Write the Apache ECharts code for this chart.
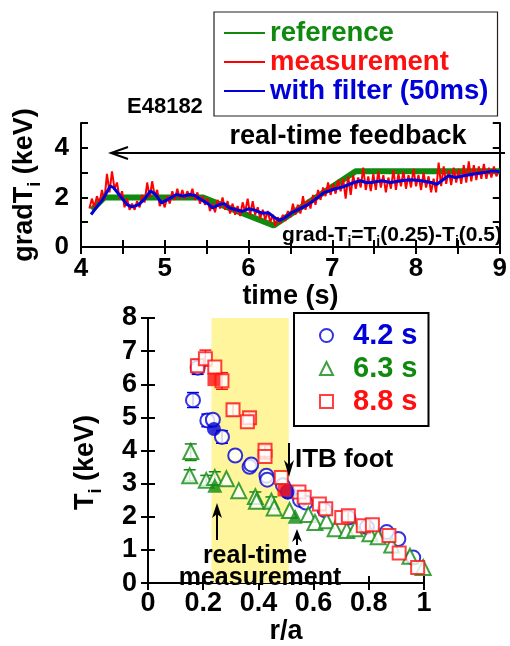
<!DOCTYPE html>
<html><head><meta charset="utf-8">
<script src="https://cdn.jsdelivr.net/npm/echarts@6/dist/echarts.min.js"></script>
<style>html,body{margin:0;padding:0;background:#fff}#c{width:510px;height:646px}</style>
</head><body><div id="c"></div>
<script>
const FONT = '"Liberation Sans", Arial, Helvetica, sans-serif';

// ---------- top panel: gradTi vs time ----------
const refTime = [4.13, 4.28, 5.45, 6.30, 7.28, 9.00];
const refGrad = [1.50, 2.00, 2.00, 0.87, 3.05, 3.05];

const measTime = [4.10,4.13,4.16,4.19,4.22,4.25,4.28,4.31,4.34,4.37,4.40,4.43,4.46,4.49,4.52,4.55,4.58,4.61,4.64,4.67,4.70,4.73,4.76,4.79,4.82,4.85,4.88,4.91,4.94,4.97,5.00,5.03,5.06,5.09,5.12,5.15,5.18,5.21,5.24,5.27,5.30,5.33,5.36,5.39,5.42,5.45,5.48,5.51,5.54,5.57,5.60,5.63,5.66,5.69,5.72,5.75,5.78,5.81,5.84,5.87,5.90,5.93,5.96,5.99,6.02,6.05,6.08,6.11,6.14,6.17,6.20,6.23,6.26,6.29,6.32,6.35,6.38,6.41,6.44,6.47,6.50,6.53,6.56,6.59,6.62,6.65,6.68,6.71,6.74,6.77,6.80,6.83,6.86,6.89,6.92,6.95,6.98,7.01,7.04,7.07,7.10,7.13,7.16,7.19,7.22,7.25,7.28,7.31,7.34,7.37,7.40,7.43,7.46,7.49,7.52,7.55,7.58,7.61,7.64,7.67,7.70,7.73,7.76,7.79,7.82,7.85,7.88,7.91,7.94,7.97,8.00,8.03,8.06,8.09,8.12,8.15,8.18,8.21,8.24,8.27,8.30,8.33,8.36,8.39,8.42,8.45,8.48,8.51,8.54,8.57,8.60,8.63,8.66,8.69,8.72,8.75,8.78,8.81,8.84,8.87,8.90,8.93,8.96,8.99];
const measGrad = [1.55,1.95,1.60,2.05,1.75,2.30,1.90,2.95,2.20,3.05,2.35,2.60,1.95,2.25,1.60,1.95,1.50,1.75,1.50,1.85,1.60,2.10,1.80,2.60,2.00,2.65,2.05,2.30,1.65,1.90,1.60,2.05,1.75,2.25,1.90,2.35,1.95,2.30,1.95,2.25,2.00,2.35,1.90,2.20,1.75,2.05,1.70,1.95,1.45,1.75,1.40,1.90,1.55,2.00,1.50,1.85,1.35,1.75,1.30,1.65,1.25,1.80,1.40,1.95,1.30,1.85,1.30,1.60,1.15,1.50,1.10,1.45,1.00,1.30,0.85,1.20,0.95,1.30,1.05,1.45,1.20,1.75,1.30,1.70,1.35,2.05,1.50,1.90,1.55,2.10,1.70,2.30,1.90,2.40,2.05,2.60,2.10,2.55,2.15,2.70,2.25,2.75,1.95,2.85,2.10,2.90,2.35,2.80,2.40,3.20,2.30,2.85,2.25,2.95,2.30,3.05,2.40,2.90,2.20,2.80,2.35,3.10,2.30,2.95,2.45,3.05,2.35,2.90,2.40,3.15,2.45,2.90,2.30,3.00,2.40,2.85,2.20,2.75,2.20,3.40,2.45,3.25,2.55,3.10,2.50,3.20,2.60,3.15,2.55,3.30,2.60,3.45,2.65,3.30,2.70,3.25,2.75,3.35,2.75,3.20,2.80,3.25,2.85,3.10];

const filtTime = [4.12,4.18,4.26,4.35,4.39,4.47,4.55,4.61,4.69,4.77,4.83,4.89,4.96,5.04,5.14,5.22,5.30,5.36,5.43,5.53,5.57,5.65,5.71,5.77,5.84,5.92,6.00,6.08,6.16,6.24,6.32,6.37,6.43,6.51,6.59,6.71,6.82,6.90,7.02,7.14,7.26,7.34,7.40,7.47,7.59,7.70,7.82,7.94,8.06,8.18,8.25,8.33,8.39,8.47,8.57,8.69,8.81,8.92,9.00];
const filtGrad = [1.31,1.58,1.92,2.46,2.39,2.05,1.71,1.62,1.71,1.98,2.26,2.12,1.78,1.92,2.12,2.05,2.12,2.08,1.92,1.71,1.58,1.71,1.75,1.58,1.51,1.44,1.54,1.48,1.37,1.37,1.17,1.07,1.17,1.37,1.51,1.71,1.98,2.19,2.33,2.44,2.60,2.67,2.60,2.60,2.67,2.60,2.67,2.71,2.67,2.60,2.53,2.73,2.87,2.80,2.87,2.94,3.00,3.07,3.03];

// ---------- bottom panel: Ti profiles ----------
const rA_42 = [0.180,0.163,0.215,0.235,0.268,0.316,0.368,0.374,0.429,0.432,0.489,0.507,0.551,0.571,0.640,0.726,0.793,0.865,0.907,0.961];
const Ti_42 = [6.50,5.52,4.91,4.93,4.41,3.85,3.51,3.58,3.24,3.12,2.95,2.76,2.51,2.43,2.20,1.98,1.69,1.54,1.33,0.77];
const rA_42rt = [0.239,0.505];
const Ti_42rt = [4.65,2.74];

const rA_63 = [0.155,0.151,0.211,0.242,0.284,0.329,0.389,0.393,0.447,0.457,0.513,0.581,0.605,0.647,0.678,0.720,0.750,0.804,0.834,0.883,0.949,0.997];
const Ti_63 = [3.97,3.24,3.10,3.19,3.15,2.79,2.61,2.47,2.47,2.27,2.19,2.07,1.83,1.88,1.64,1.59,1.64,1.49,1.40,1.15,0.81,0.47];
const rA_63rt = [0.242,0.533];
const Ti_63rt = [2.95,2.02];

const rA_88 = [0.179,0.208,0.242,0.268,0.308,0.368,0.360,0.424,0.424,0.483,0.547,0.566,0.621,0.644,0.702,0.726,0.780,0.813,0.873,0.910,0.977];
const Ti_88 = [6.56,6.77,6.52,6.11,5.23,4.99,4.87,4.01,3.82,3.19,2.75,2.59,2.39,2.24,1.98,2.03,1.73,1.76,1.44,0.91,0.47];
const rA_88rt = [0.239,0.493];
const Ti_88rt = [6.14,2.81];

// error bars: r/a, low, high
const errR_42 = [0.163,0.215,0.268,0.180];
const errLo_42 = [5.30,4.72,4.22,6.30];
const errHi_42 = [5.75,5.10,4.60,6.60];
const errR_63 = [0.155,0.151,0.211,0.242,0.389,0.447];
const errLo_63 = [3.70,3.08,2.95,3.03,2.45,2.30];
const errHi_63 = [4.20,3.42,3.25,3.36,2.75,2.60];
const errR_88 = [0.208,0.179,0.268,0.308,0.368,0.424];
const errLo_88 = [6.55,6.35,5.85,5.05,4.80,3.75];
const errHi_88 = [7.03,6.75,6.35,5.40,5.15,4.15];

const C_GREEN = '#0f8a0f', C_RED = '#ff1010', C_BLUE = '#0000d8';
const zip = (a, b) => a.map((v, i) => [v, b[i]]);
const zip3 = (a, b, c) => a.map((v, i) => [v, b[i], c[i]]);

function errItem(color) {
  return function (params, api) {
    const x = api.value(0), lo = api.value(1), hi = api.value(2);
    const p1 = api.coord([x, lo]), p2 = api.coord([x, hi]);
    const w = 6;
    const st = { stroke: color, lineWidth: 1.5 };
    return { type: 'group', children: [
      { type: 'line', shape: { x1: p1[0], y1: p1[1], x2: p2[0], y2: p2[1] }, style: st },
      { type: 'line', shape: { x1: p1[0] - w, y1: p1[1], x2: p1[0] + w, y2: p1[1] }, style: st },
      { type: 'line', shape: { x1: p2[0] - w, y1: p2[1], x2: p2[0] + w, y2: p2[1] }, style: st }
    ]};
  };
}

const txt = { fontFamily: FONT, fontWeight: 'bold', color: '#000' };
const axLine = { show: true, lineStyle: { color: '#000', width: 2 } };
const tick = { show: true, inside: true, length: 7, lineStyle: { color: '#000', width: 2 } };

const chart = echarts.init(document.getElementById('c'), null, { renderer: 'canvas' });
chart.setOption({
  animation: false,
  backgroundColor: '#fff',
  grid: [
    { left: 81, top: 123, width: 424, height: 124 },
    { left: 148, top: 318, width: 276, height: 275 }
  ],
  xAxis: [
    { gridIndex: 0, type: 'value', min: 4, max: 9, interval: 0.5, position: 'bottom',
      axisLine: axLine, axisTick: tick, splitLine: { show: false },
      axisLabel: { ...txt, fontSize: 26, margin: 9, formatter: v => Number.isInteger(v) ? String(v) : '' },
      name: 'time (s)', nameLocation: 'middle', nameGap: 29,
      nameTextStyle: { ...txt, fontSize: 27 } },
    { gridIndex: 0, type: 'value', min: 4, max: 9, interval: 0.5, position: 'top',
      axisLine: axLine, axisTick: tick, splitLine: { show: false }, axisLabel: { show: false } },
    { gridIndex: 1, type: 'value', min: 0, max: 1, interval: 0.2, position: 'bottom',
      axisLine: axLine, axisTick: tick, splitLine: { show: false },
      axisLabel: { ...txt, fontSize: 27, margin: 7, formatter: v => (v === 0 || v === 1) ? String(v) : v.toFixed(1) },
      name: 'r/a', nameLocation: 'middle', nameGap: 30,
      nameTextStyle: { ...txt, fontSize: 27 } },
    { gridIndex: 1, type: 'value', min: 0, max: 1, interval: 0.2, position: 'top',
      axisLine: axLine, axisTick: tick, splitLine: { show: false }, axisLabel: { show: false } }
  ],
  yAxis: [
    { gridIndex: 0, type: 'value', min: 0, max: 5, interval: 1, position: 'left',
      axisLine: axLine, axisTick: tick, splitLine: { show: false },
      axisLabel: { ...txt, fontSize: 26, margin: 12, formatter: v => v % 2 === 0 ? String(v) : '' },
      name: '{a|gradT}{s|i}{a| (keV)}', nameLocation: 'middle', nameGap: 36,
      nameTextStyle: { padding: [0, 0, 0, 0], rich: {
        a: { ...txt, fontSize: 27, lineHeight: 38 },
        s: { ...txt, fontSize: 18, lineHeight: 18, verticalAlign: 'bottom' } } } },
    { gridIndex: 0, type: 'value', min: 0, max: 5, interval: 1, position: 'right',
      axisLine: axLine, axisTick: tick, splitLine: { show: false }, axisLabel: { show: false } },
    { gridIndex: 1, type: 'value', min: 0, max: 8, interval: 1, position: 'left',
      axisLine: axLine, axisTick: tick, splitLine: { show: false },
      axisLabel: { ...txt, fontSize: 27, margin: 11 },
      name: '{a|T}{s|i}{a| (keV)}', nameLocation: 'middle', nameGap: 43,
      nameTextStyle: { padding: [0, 24, 0, 0], rich: {
        a: { ...txt, fontSize: 27, lineHeight: 38 },
        s: { ...txt, fontSize: 18, lineHeight: 18, verticalAlign: 'bottom' } } } },
    { gridIndex: 1, type: 'value', min: 0, max: 8, interval: 1, position: 'right',
      axisLine: axLine, axisTick: tick, splitLine: { show: false }, axisLabel: { show: false } }
  ],
  legend: [
    { orient: 'vertical', left: 214, top: 12, padding: [7, 9, 11, 9],
      itemWidth: 41, itemHeight: 14, itemGap: 1,
      itemStyle: { opacity: 0 },
      backgroundColor: '#fff', borderColor: '#222', borderWidth: 1.2,
      textStyle: { ...txt, fontSize: 27.5 },
      data: [
        { name: 'reference', textStyle: { color: C_GREEN } },
        { name: 'measurement', textStyle: { color: C_RED } },
        { name: 'with filter (50ms)', textStyle: { color: C_BLUE } }
      ] },
    { orient: 'vertical', left: 294, top: 313, padding: [8, 11, 10, 25],
      itemWidth: 13, itemHeight: 13, itemGap: 4,
      backgroundColor: '#fff', borderColor: '#000', borderWidth: 2,
      textStyle: { ...txt, fontSize: 29, padding: [0, 0, 0, 15] },
      data: [
        { name: '4.2 s', textStyle: { color: C_BLUE } },
        { name: '6.3 s', textStyle: { color: C_GREEN } },
        { name: '8.8 s', textStyle: { color: C_RED } }
      ] }
  ],
  series: [
    { name: 'reference', type: 'line', xAxisIndex: 0, yAxisIndex: 0, data: zip(refTime, refGrad),
      symbol: 'none', lineStyle: { color: C_GREEN, width: 6 }, itemStyle: { color: C_GREEN }, z: 2 },
    { name: 'measurement', type: 'line', xAxisIndex: 0, yAxisIndex: 0, data: zip(measTime, measGrad),
      symbol: 'none', lineStyle: { color: '#ff0000', width: 2 }, itemStyle: { color: '#ff0000' }, z: 3 },
    { name: 'with filter (50ms)', type: 'line', xAxisIndex: 0, yAxisIndex: 0, data: zip(filtTime, filtGrad),
      symbol: 'none', lineStyle: { color: C_BLUE, width: 3 }, itemStyle: { color: C_BLUE }, z: 4 },

    { name: 'band', type: 'custom', xAxisIndex: 2, yAxisIndex: 2, data: [], renderItem: () => null,
      z: 0, silent: true,
      markArea: { silent: true, itemStyle: { color: '#fff59c' },
        data: [[{ xAxis: 0.23 }, { xAxis: 0.51 }]] } },

    { name: 'err 6.3', type: 'custom', xAxisIndex: 2, yAxisIndex: 2, data: zip3(errR_63, errLo_63, errHi_63),
      renderItem: errItem(C_GREEN), encode: { x: 0, y: [1, 2] }, z: 1, silent: true },
    { name: 'err 4.2', type: 'custom', xAxisIndex: 2, yAxisIndex: 2, data: zip3(errR_42, errLo_42, errHi_42),
      renderItem: errItem(C_BLUE), encode: { x: 0, y: [1, 2] }, z: 1, silent: true },
    { name: 'err 8.8', type: 'custom', xAxisIndex: 2, yAxisIndex: 2, data: zip3(errR_88, errLo_88, errHi_88),
      renderItem: errItem(C_RED), encode: { x: 0, y: [1, 2] }, z: 1, silent: true },

    { name: '4.2 s', type: 'scatter', xAxisIndex: 2, yAxisIndex: 2, data: zip(rA_42, Ti_42), clip: false,
      symbol: 'emptyCircle', symbolSize: 14, itemStyle: { color: C_BLUE, borderWidth: 1.3 }, z: 3 },
    { name: '6.3 s', type: 'scatter', xAxisIndex: 2, yAxisIndex: 2, data: zip(rA_63, Ti_63), clip: false,
      symbol: 'emptyTriangle', symbolSize: 15, itemStyle: { color: C_GREEN, borderWidth: 1.3 }, z: 3 },
    { name: '8.8 s', type: 'scatter', xAxisIndex: 2, yAxisIndex: 2, data: zip(rA_88, Ti_88), clip: false,
      symbol: 'emptyRect', symbolSize: 13, itemStyle: { color: C_RED, borderWidth: 1.3 }, z: 3 },

    { name: 'rt 4.2', type: 'scatter', xAxisIndex: 2, yAxisIndex: 2, data: zip(rA_42rt, Ti_42rt),
      symbol: 'circle', symbolSize: 14, itemStyle: { color: C_BLUE }, z: 4 },
    { name: 'rt 6.3', type: 'scatter', xAxisIndex: 2, yAxisIndex: 2, data: zip(rA_63rt, Ti_63rt),
      symbol: 'triangle', symbolSize: 15, itemStyle: { color: C_GREEN }, z: 4 },
    { name: 'rt 8.8', type: 'scatter', xAxisIndex: 2, yAxisIndex: 2, data: zip(rA_88rt, Ti_88rt),
      symbol: 'rect', symbolSize: 13, itemStyle: { color: C_RED }, z: 4 }
  ],
  graphic: [
    { type: 'text', left: 127, top: 96, style: { text: 'E48182', font: 'bold 22px ' + FONT, fill: '#000' }, z: 10 },
    { type: 'text', x: 348, y: 137, style: { text: 'real-time feedback', font: 'bold 27px ' + FONT, fill: '#000', align: 'center', verticalAlign: 'middle' }, z: 10 },
    { type: 'line', shape: { x1: 111, y1: 153, x2: 505, y2: 153 }, style: { stroke: '#000', lineWidth: 2 }, z: 10 },
    { type: 'polyline', shape: { points: [[128, 147], [111, 153], [128, 159]] }, style: { stroke: '#000', lineWidth: 2, fill: null }, z: 10 },
    { type: 'text', x: 502, y: 235, z: 10,
      style: { text: '{a|grad-T}{s|i}{a|=T}{s|i}{a|(0.25)-T}{s|i}{a|(0.5)}', align: 'right', verticalAlign: 'middle',
        rich: { a: { fontFamily: FONT, fontWeight: 'bold', fontSize: 21, lineHeight: 28, fill: '#000', color: '#000' },
                s: { fontFamily: FONT, fontWeight: 'bold', fontSize: 14, lineHeight: 14, verticalAlign: 'bottom', fill: '#000', color: '#000' } } } },
    // ITB foot
    { type: 'text', x: 295, y: 460, style: { text: 'ITB foot', font: 'bold 26px ' + FONT, fill: '#000', verticalAlign: 'middle' }, z: 10 },
    { type: 'line', shape: { x1: 289, y1: 443, x2: 289, y2: 468 }, style: { stroke: '#000', lineWidth: 2 }, z: 10 },
    { type: 'polygon', shape: { points: [[284, 460], [289, 477], [294, 460], [289, 465]] }, style: { fill: '#000' }, z: 10 },
    // real-time measurement
    { type: 'text', x: 255, y: 556, style: { text: 'real-time', font: 'bold 25px ' + FONT, fill: '#000', align: 'center', verticalAlign: 'middle' }, z: 10 },
    { type: 'text', x: 260, y: 578, style: { text: 'measurement', font: 'bold 25px ' + FONT, fill: '#000', align: 'center', verticalAlign: 'middle' }, z: 10 },
    { type: 'line', shape: { x1: 217, y1: 540, x2: 217, y2: 510 }, style: { stroke: '#000', lineWidth: 2 }, z: 10 },
    { type: 'polygon', shape: { points: [[212, 518], [217, 503], [222, 518], [217, 514]] }, style: { fill: '#000' }, z: 10 },
    { type: 'line', shape: { x1: 297, y1: 545, x2: 297, y2: 535 }, style: { stroke: '#000', lineWidth: 2 }, z: 10 },
    { type: 'polygon', shape: { points: [[292, 542], [297, 529], [302, 542], [297, 538]] }, style: { fill: '#000' }, z: 10 }
  ]
});
</script>
</body></html>
